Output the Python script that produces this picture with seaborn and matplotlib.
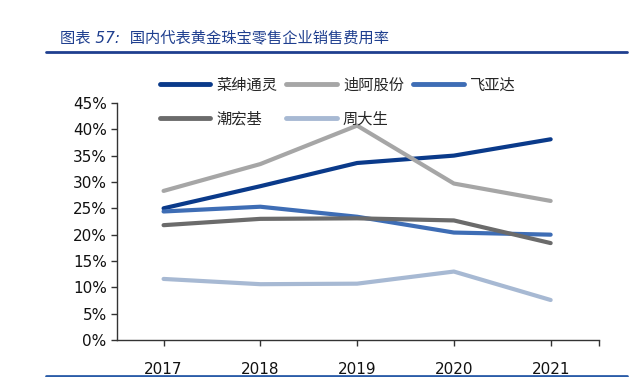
import matplotlib
matplotlib.use("Agg")
import matplotlib.pyplot as plt
import matplotlib.lines as mlines
import pandas as pd
import seaborn as sns

# ================= 数据 =================
years = ["2017", "2018", "2019", "2020", "2021"]
companies = ["菜绅通灵", "迪阿股份", "飞亚达", "潮宏基", "周大生"]

laishen = [25.0, 29.2, 33.6, 35.0, 38.1]
diya = [28.3, 33.4, 40.7, 29.7, 26.4]
feiyada = [24.4, 25.3, 23.4, 20.4, 20.0]
chaohongji = [21.8, 23.0, 23.1, 22.7, 18.4]
zhoudasheng = [11.6, 10.6, 10.7, 13.0, 7.6]

colors = ["#0a3a8a", "#a6a6a6", "#3e6db5", "#6b6b6b", "#a7b9d3"]

series = [laishen, diya, feiyada, chaohongji, zhoudasheng]
rows = []
for name, vals in zip(companies, series):
    for i, v in enumerate(vals):
        rows.append({"x": i, "年份": years[i], "公司": name, "值": v})
df = pd.DataFrame(rows)

# ================= 绘图 =================
sns.set_theme(style="white")
plt.rcParams["font.family"] = ["DejaVu Sans", "Noto Sans CJK SC"]

fig = plt.figure(figsize=(6.4, 3.77), dpi=100)
ax = fig.add_axes([0.183, 0.098, 0.753, 0.629])

sns.lineplot(data=df, x="x", y="值", hue="公司", hue_order=companies,
             palette=colors, linewidth=3.0, legend=False, ax=ax)

ax.set_xlim(-0.48, 4.5)
ax.set_ylim(0, 45)
ax.set_yticks(range(0, 46, 5))
ax.set_yticklabels([f"{v}%" for v in range(0, 46, 5)], fontsize=11)
ax.set_xticks([0, 1, 2, 3, 4, 4.5])
ax.set_xticklabels(years + [""], fontsize=11)
ax.set_xlabel("")
ax.set_ylabel("")
ax.tick_params(axis="both", direction="out", length=4, width=1, color="#333333",
               bottom=True, left=True, colors="#111111")
ax.tick_params(axis="x", pad=12)
for side in ["top", "right"]:
    ax.spines[side].set_visible(False)
for side in ["left", "bottom"]:
    ax.spines[side].set_color("#333333")
    ax.spines[side].set_linewidth(1)
ax.grid(False)

# 图例：两行三列
handles = [mlines.Line2D([], [], color=c, linewidth=3.5) for c in colors]
order = [0, 3, 1, 4, 2]
leg = ax.legend([handles[i] for i in order], [companies[i] for i in order],
                ncol=3, loc="lower left", bbox_to_anchor=(0.06, 0.84),
                frameon=False, handlelength=3.3, handletextpad=0.4,
                columnspacing=0.6, labelspacing=1.1,
                prop={"family": ["Noto Sans CJK SC"], "size": 11})

# 标题与分隔线
fig.text(0.094, 0.9, "图表 57:  国内代表黄金珠宝零售企业销售费用率",
         fontsize=11, color="#1f3f8f", style="italic",
         family=["DejaVu Sans", "Noto Sans CJK SC"], va="center")
fig.add_artist(mlines.Line2D([0.072, 0.98], [0.862, 0.862], color="#1f3f8f", linewidth=2))
fig.add_artist(mlines.Line2D([0.072, 0.98], [0.003, 0.003], color="#2a5ca8", linewidth=2))

plt.savefig("out.png", dpi=100)
